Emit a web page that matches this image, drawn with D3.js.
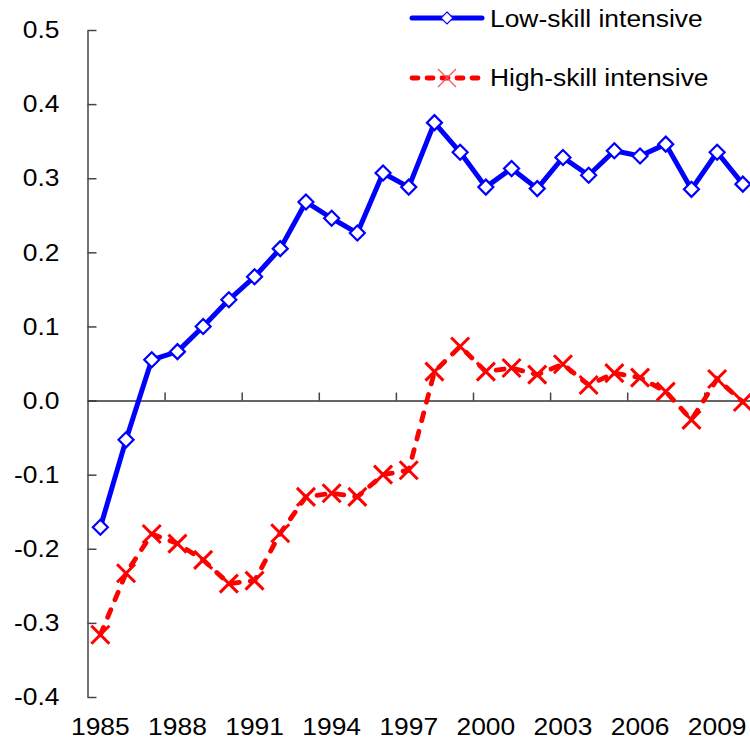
<!DOCTYPE html>
<html>
<head>
<meta charset="utf-8">
<script src="https://cdn.jsdelivr.net/npm/d3@7"></script>
<style>
  html, body { margin: 0; padding: 0; background: #fff; }
  svg { display: block; font-family: "Liberation Sans", Arial, sans-serif; }
</style>
</head>
<body>
<svg id="chart" width="750" height="742"></svg>
<script>
// Datos
const years = d3.range(1985, 2011);
const lowSkill = [-0.171, -0.053, 0.055, 0.066, 0.100, 0.136, 0.167, 0.205, 0.268, 0.246,
  0.226, 0.307, 0.288, 0.375, 0.335, 0.288, 0.313, 0.286, 0.328, 0.304,
  0.337, 0.330, 0.346, 0.285, 0.335, 0.292];
const highSkill = [-0.316, -0.233, -0.180, -0.193, -0.215, -0.247, -0.243, -0.179, -0.130, -0.125,
  -0.130, -0.100, -0.094, 0.039, 0.073, 0.039, 0.044, 0.035, 0.049, 0.021,
  0.037, 0.031, 0.012, -0.026, 0.029, -0.002];
const yTicks = [-0.4, -0.3, -0.2, -0.1, 0, 0.1, 0.2, 0.3, 0.4, 0.5];
const xLabelYears = [1985, 1988, 1991, 1994, 1997, 2000, 2003, 2006, 2009];
const seriesNames = ["Low-skill intensive", "High-skill intensive"];

const svg = d3.select("#chart");
const plotLeft = 87.5, band = 25.7, plotTop = 30, plotBottom = 697;
const stretch = 1.1; // el texto original está algo ensanchado

const x = d3.scaleBand().domain(years).range([plotLeft, plotLeft + years.length * band]);
const xIdx = d3.scaleLinear().domain([0, years.length]).range([plotLeft, plotLeft + years.length * band]);
const y = d3.scaleLinear().domain([-0.4, 0.5]).range([plotBottom, plotTop]);
const cx = yr => x(yr) + x.bandwidth() / 2;

// Eje Y
const yAxis = svg.append("g")
  .attr("transform", `translate(${plotLeft},0)`)
  .call(d3.axisLeft(y).tickValues(yTicks).tickSizeInner(-9).tickSizeOuter(0)
    .tickPadding(0).tickFormat(d => d3.format(".1f")(d).replace("−", "-")));
yAxis.select(".domain").attr("stroke", "#444").attr("stroke-width", 1.5);
yAxis.selectAll(".tick line").attr("stroke", "#444").attr("stroke-width", 1.5);
yAxis.selectAll(".tick text")
  .attr("x", -28 / stretch)
  .attr("transform", `scale(${stretch},1)`)
  .attr("font-size", 24).attr("fill", "#000");

// Eje X en cero (solo marcas)
const xAxis = svg.append("g")
  .attr("transform", `translate(0,${y(0)})`)
  .call(d3.axisTop(xIdx).tickValues(d3.range(3, years.length, 3)).tickSize(8)
    .tickSizeOuter(0).tickFormat(""));
xAxis.select(".domain").attr("stroke", "#333").attr("stroke-width", 1.5);
xAxis.selectAll(".tick line").attr("stroke", "#444").attr("stroke-width", 1.5);

// Etiquetas del eje X abajo
const xLab = svg.append("g")
  .attr("transform", `translate(0,${plotBottom})`)
  .call(d3.axisBottom(x).tickValues(xLabelYears).tickSize(0).tickPadding(21));
xLab.select(".domain").remove();
xLab.selectAll(".tick text")
  .attr("transform", `scale(${stretch},1)`)
  .attr("font-size", 24).attr("fill", "#000");

// Series
const lowData = years.map((yr, i) => [yr, lowSkill[i]]);
const highData = years.map((yr, i) => [yr, highSkill[i]]);
const line = d3.line().x(d => cx(d[0])).y(d => y(d[1]));

svg.append("path").datum(highData)
  .attr("d", line)
  .attr("fill", "none").attr("stroke", "#ff0000").attr("stroke-width", 4.8)
  .attr("stroke-dasharray", "8,11").attr("stroke-linecap", "round");

const xMark = (s) => `M${-s},${-s}L${s},${s}M${-s},${s}L${s},${-s}`;
svg.append("g").selectAll("path").data(highData).join("path")
  .attr("transform", d => `translate(${cx(d[0])},${y(d[1])})`)
  .attr("d", xMark(9))
  .attr("stroke", "#ff0000").attr("stroke-width", 3).attr("fill", "none");

svg.append("path").datum(lowData)
  .attr("d", line)
  .attr("fill", "none").attr("stroke", "#0000ff").attr("stroke-width", 5)
  .attr("stroke-linejoin", "round");

const diamond = (s) => `M0,${-s}L${s},0L0,${s}L${-s},0Z`;
svg.append("g").selectAll("path").data(lowData).join("path")
  .attr("transform", d => `translate(${cx(d[0])},${y(d[1])})`)
  .attr("d", diamond(7.5))
  .attr("fill", "#fff").attr("stroke", "#0000ff").attr("stroke-width", 2.2);

// Leyenda
const legend = svg.append("g");
const lx0 = 412, lx1 = 482, lmx = 447;
legend.append("line").attr("x1", lx0).attr("x2", lx1).attr("y1", 18).attr("y2", 18)
  .attr("stroke", "#0000ff").attr("stroke-width", 5).attr("stroke-linecap", "round");
legend.append("path").attr("transform", `translate(${lmx},18)`).attr("d", diamond(6))
  .attr("fill", "#fff").attr("stroke", "#0000ff").attr("stroke-width", 1.2);
legend.append("line").attr("x1", lx0).attr("x2", lx1).attr("y1", 78).attr("y2", 78)
  .attr("stroke", "#ff0000").attr("stroke-width", 4.8)
  .attr("stroke-dasharray", "6,9").attr("stroke-linecap", "round");
legend.append("path").attr("transform", `translate(${lmx},78)`).attr("d", xMark(9))
  .attr("stroke", "#ff5050").attr("stroke-width", 1.2).attr("fill", "none");

legend.selectAll("text").data(seriesNames).join("text")
  .attr("transform", (d, i) => `translate(490,${i === 0 ? 27 : 86}) scale(${stretch},1)`)
  .attr("font-size", 24).attr("fill", "#000")
  .text(d => d);
</script>
</body>
</html>
